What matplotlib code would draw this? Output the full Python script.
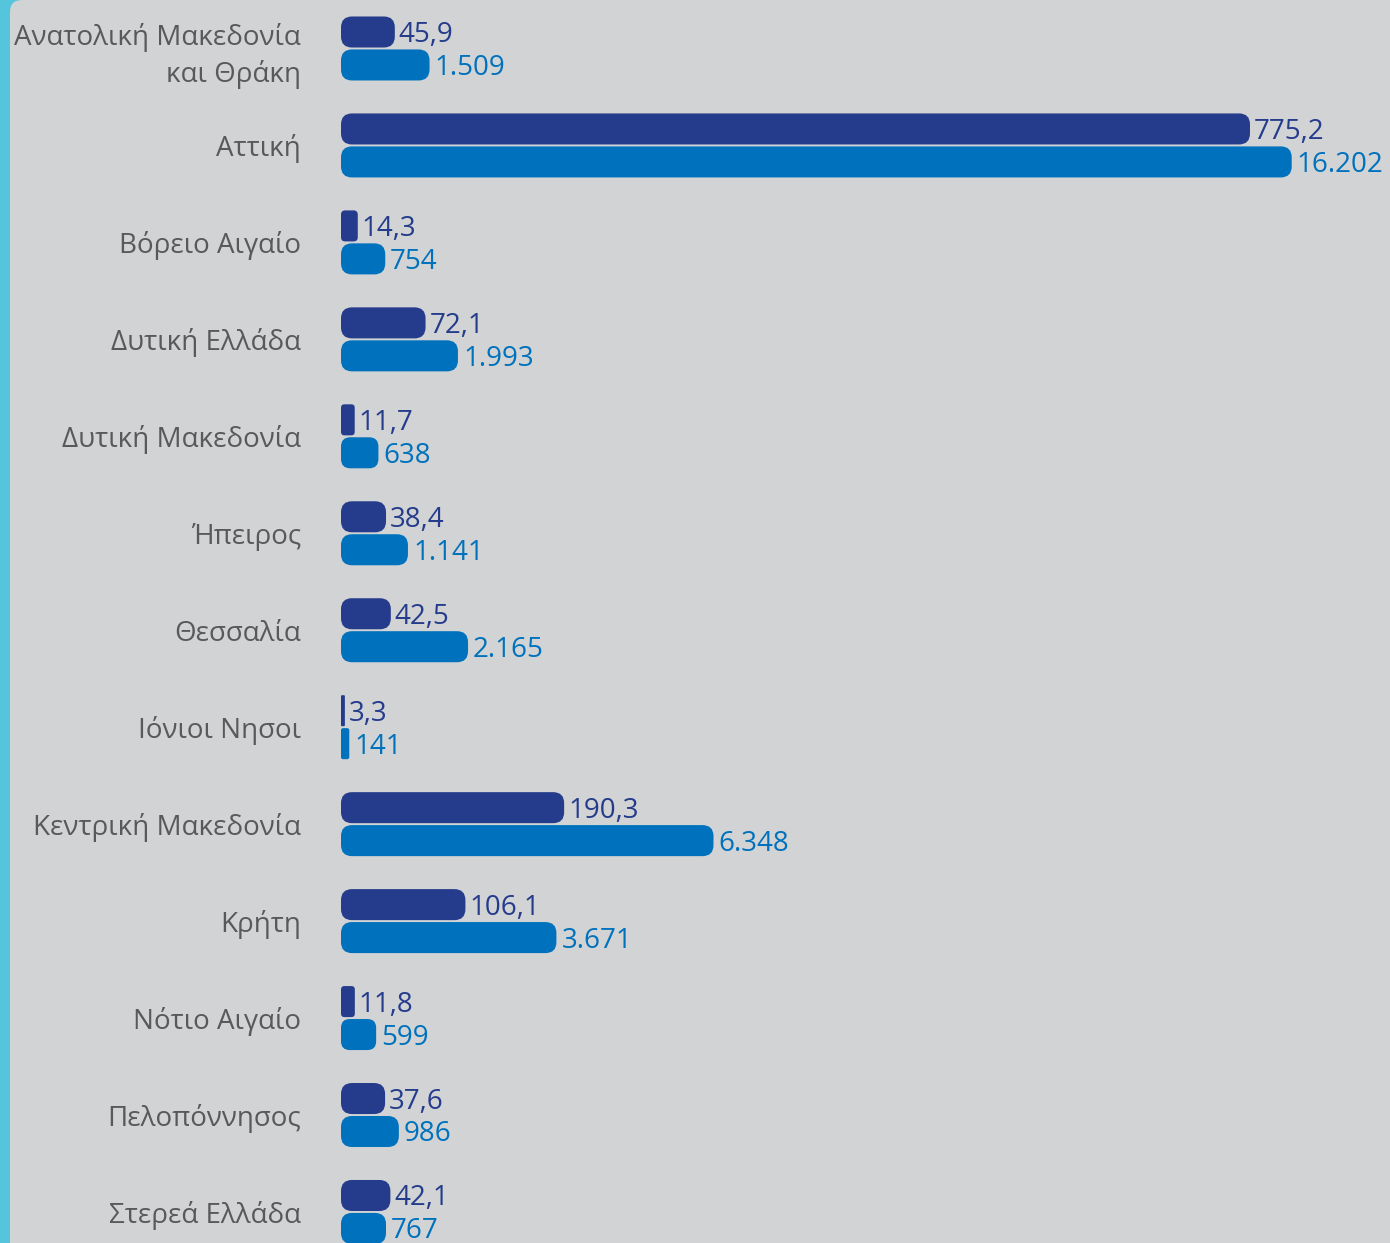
import matplotlib
matplotlib.use("Agg")
import matplotlib.pyplot as plt
from matplotlib.patches import FancyBboxPatch, BoxStyle

# ---------------- data ----------------
regions = [
    "Ανατολική Μακεδονία\nκαι Θράκη",
    "Αττική",
    "Βόρειο Αιγαίο",
    "Δυτική Ελλάδα",
    "Δυτική Μακεδονία",
    "Ήπειρος",
    "Θεσσαλία",
    "Ιόνιοι Νησοι",
    "Κεντρική Μακεδονία",
    "Κρήτη",
    "Νότιο Αιγαίο",
    "Πελοπόννησος",
    "Στερεά Ελλάδα",
]
series_dark = [45.9, 775.2, 14.3, 72.1, 11.7, 38.4, 42.5, 3.3, 190.3, 106.1, 11.8, 37.6, 42.1]
series_light = [1509, 16202, 754, 1993, 638, 1141, 2165, 141, 6348, 3671, 599, 986, 767]
labels_dark = ["45,9", "775,2", "14,3", "72,1", "11,7", "38,4", "42,5", "3,3",
               "190,3", "106,1", "11,8", "37,6", "42,1"]
labels_light = ["1.509", "16.202", "754", "1.993", "638", "1.141", "2.165", "141",
                "6.348", "3.671", "599", "986", "767"]

# ---------------- style ----------------
BG = "#D1D3D4"
CYAN = "#55C5DB"
DARK = "#253C8C"
LIGHT = "#0071BC"
TXT = "#58595B"
FONT = "Open Sans"
FS = 20

W, H = 1390, 1243
fig = plt.figure(figsize=(W / 100, H / 100), dpi=100)
fig.patch.set_facecolor(CYAN)

# grey panel with rounded top-left corner
rad = 12
panel = FancyBboxPatch((10 / W, -0.1), 1.2, 1.1,
                       boxstyle=BoxStyle("Round", pad=0, rounding_size=rad / W),
                       mutation_aspect=W / H,
                       transform=fig.transFigure, facecolor=BG, edgecolor="none",
                       zorder=-1)
fig.add_artist(panel)

left = 341 / W
ax = fig.add_axes([left, 0, 1 - left, 1])
ax.set_facecolor("none")
ax2 = ax.twiny()
ax2.set_facecolor("none")

n = len(regions)
pos = list(range(n))
off = 0.17
bh = 0.32

ax.set_ylim(12.32, -0.5)
ax.set_xlim(0, 16202 * 1049 / 950.7)
ax2.set_xlim(0, 775.2 * 1049 / 909)

bars_light = ax.barh([p + off for p in pos], series_light, height=bh, color=LIGHT)
bars_dark = ax2.barh([p - off for p in pos], series_dark, height=bh, color=DARK)


def round_bars(a, bars, R=11):
    p0 = a.transData.transform((0, 0))
    p1 = a.transData.transform((1, 1))
    pxx = abs(p1[0] - p0[0])
    pxy = abs(p1[1] - p0[1])
    for rect in list(bars.patches):
        x, y = rect.get_xy()
        w, h = rect.get_width(), rect.get_height()
        c = rect.get_facecolor()
        rect.remove()
        wpx = w * pxx
        hpx = h * pxy
        r = min(R, wpx / 4, hpx / 2)
        fp = FancyBboxPatch((x, y), w, h,
                            boxstyle=BoxStyle("Round", pad=0, rounding_size=r / pxx),
                            mutation_aspect=pxx / pxy,
                            facecolor=c, edgecolor="none")
        a.add_patch(fp)


round_bars(ax, bars_light)
round_bars(ax2, bars_dark)

for p, v, lab in zip(pos, series_light, labels_light):
    ax.annotate(lab, (v, p + off), xytext=(5, -3), textcoords="offset pixels",
                ha="left", va="center", color=LIGHT, fontsize=FS, family=FONT)
for p, v, lab in zip(pos, series_dark, labels_dark):
    ax2.annotate(lab, (v, p - off), xytext=(4, -3), textcoords="offset pixels",
                 ha="left", va="center", color=DARK, fontsize=FS, family=FONT)

ax.set_yticks(pos)
ax.set_yticklabels(regions, fontsize=FS, family=FONT, color=TXT, linespacing=1.35)
ax.tick_params(axis="y", length=0, pad=40 / 1.389)
ax.set_xticks([])
ax2.set_xticks([])
for a in (ax, ax2):
    for s in a.spines.values():
        s.set_visible(False)

fig.savefig("out.png", dpi=100, facecolor=CYAN)
